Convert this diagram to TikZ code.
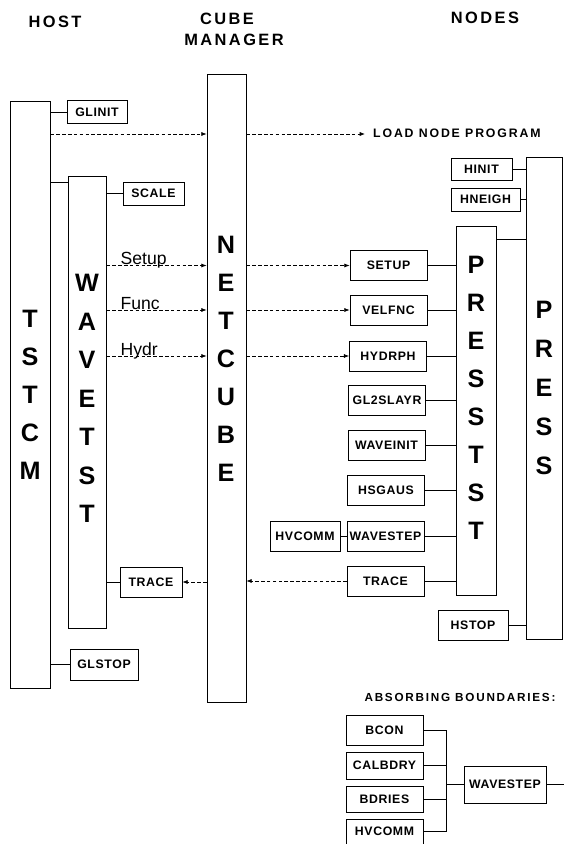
\documentclass[tikz,border=0pt]{standalone}
\usepackage{fontspec}
\setmainfont{Liberation Sans}
\newfontfamily\spaced[LetterSpace=5]{Liberation Sans}
\newfontfamily\wide[LetterSpace=15]{Liberation Sans}
\usetikzlibrary{arrows.meta}
\begin{document}
\begin{tikzpicture}[x=0.03cm, y=-0.03cm,
  col/.style={rectangle, draw, line width=0.7pt, inner sep=0pt},
  rtn/.style={rectangle, draw, line width=0.7pt, inner sep=0pt, minimum width=2.31cm, minimum height=0.9cm, font={\spaced\bfseries\fontsize{10.5}{12}\selectfont}},
  big/.style={inner sep=0pt, font={\bfseries\fontsize{21.5}{25}\selectfont}},
  head/.style={inner sep=0pt, font={\wide\bfseries\fontsize{14}{16}\selectfont}},
  note/.style={inner sep=0pt, font={\wide\bfseries\fontsize{10}{12}\selectfont}},
  lbl/.style={inner sep=0pt, font={\fontsize{15}{17}\selectfont}},
  link/.style={line width=0.7pt},
  msg/.style={line width=0.6pt, densely dashed, -{Latex[length=4.5pt,width=3.5pt]}},
  ]
 \useasboundingbox (0,0) rectangle (564,844);

 \node[head] (host) at (55,22) {HOST};
 \node[head] (cube) at (227,19) {CUBE};
 \node[head] (mgr) at (234,40) {MANAGER};
 \node[head] (nodes) at (485,18) {NODES};

 \node[col, minimum width=1.2cm, minimum height=17.61cm] (tstcm) at (30,394.5) {};
 \node[col, minimum width=1.14cm, minimum height=13.56cm] (wavest) at (87,402) {};
 \node[col, minimum width=1.17cm, minimum height=18.84cm] (netcube) at (226.5,388) {};
 \node[col, minimum width=1.2cm, minimum height=11.07cm] (presst) at (476,410.5) {};
 \node[col, minimum width=1.08cm, minimum height=14.46cm] (press) at (544,398) {};

 \foreach \l [count=\i] in {T,S,T,C,M}
   \node[big] (tstcm-\i) at (30,{319+38*(\i-1)}) {\l};
 \foreach \l [count=\i] in {W,A,V,E,T,S,T}
   \node[big] (wavest-\i) at (87,{283+38.5*(\i-1)}) {\l};
 \foreach \l [count=\i] in {N,E,T,C,U,B,E}
   \node[big] (netcube-\i) at (226,{245+38*(\i-1)}) {\l};
 \foreach \l [count=\i] in {P,R,E,S,S,T,S,T}
   \node[big] (presst-\i) at (476,{265+38*(\i-1)}) {\l};
 \foreach \l [count=\i] in {P,R,E,S,S}
   \node[big] (press-\i) at (544,{310+39*(\i-1)}) {\l};

 % host side
 \node[rtn, minimum width=1.8cm, minimum height=0.69cm] (glinit) at (97,112) {GLINIT};
 \node[rtn, minimum width=1.83cm, minimum height=0.69cm] (scale) at (153.5,193.5) {SCALE};
 \node[rtn, minimum width=1.86cm] (traceL) at (151,582) {TRACE};
 \node[rtn, minimum width=2.04cm, minimum height=0.93cm] (glstop) at (104,664.5) {GLSTOP};

 % node side
 \node[rtn, minimum width=1.83cm, minimum height=0.66cm] (hinit) at (481.5,169) {HINIT};
 \node[rtn, minimum width=2.07cm, minimum height=0.69cm] (hneigh) at (485.5,199.5) {HNEIGH};
 \node[rtn] (setup) at (388.5,265.5) {SETUP};
 \node[rtn] (velfnc) at (388.5,310) {VELFNC};
 \node[rtn] (hydrph) at (388,356) {HYDRPH};
 \node[rtn] (gl2slayr) at (387,400) {GL2SLAYR};
 \node[rtn] (waveinit) at (386.5,445) {WAVEINIT};
 \node[rtn] (hsgaus) at (386,490.5) {HSGAUS};
 \node[rtn] (wavestep) at (385.5,536) {WAVESTEP};
 \node[rtn, minimum width=2.1cm] (hvcomm) at (305,536) {HVCOMM};
 \node[rtn] (traceR) at (385.5,581) {TRACE};
 \node[rtn, minimum width=2.1cm] (hstop) at (473,625) {HSTOP};

 \coordinate (load) at (365,134);
 \node[note, anchor=west, font={\wide\bfseries\fontsize{10.5}{12}\selectfont}] (loadtxt) at (373,133) {LOAD NODE PROGRAM};

 % absorbing boundaries
 \node[note] (absorb) at (460,697) {ABSORBING BOUNDARIES:};
 \node[rtn] (bcon) at (384.5,730) {BCON};
 \node[rtn, minimum height=0.81cm] (calbdry) at (384.5,765.5) {CALBDRY};
 \node[rtn, minimum height=0.78cm] (bdries) at (384.5,799) {BDRIES};
 \node[rtn, minimum height=0.75cm] (hvcommB) at (384.5,831.5) {HVCOMM};
 \node[rtn, minimum width=2.46cm, minimum height=1.11cm] (wavestepB) at (505,784.5) {WAVESTEP};
 \coordinate (bus) at (446,784.5);
 \coordinate (exit) at (564,784.5);

 \draw[link] (tstcm.east |- glinit.west) -- (glinit.west);
 \draw[msg] (tstcm.east |- load) -- (netcube.west |- load);
 \draw[msg] (netcube.east |- load) -- (load);
 \coordinate (wtop) at ([yshift=-0.21cm]wavest.north west);
 \draw[link] (wtop) -- (tstcm.east |- wtop);
 \draw[link] (wavest.east |- scale.west) -- (scale.west);
 \foreach \txt/\dst in {Setup/setup, Func/velfnc, Hydr/hydrph} {
   \draw[msg] (wavest.east |- \dst) -- (netcube.west |- \dst);
   \draw[msg] (netcube.east |- \dst) -- (\dst.west);
   \node[lbl, anchor=base west] (lbl-\dst) at ([xshift=0.42cm, yshift=0.5pt]wavest.east |- \dst) {\txt};
 }
 \draw[link] (wavest.east |- traceL) -- (traceL.west);
 \draw[msg] (netcube.west |- traceL) -- (traceL.east);
 \draw[link] (tstcm.east |- glstop) -- (glstop.west);

 \foreach \r in {setup,velfnc,hydrph,gl2slayr,waveinit,hsgaus,wavestep,traceR}
   \draw[link] (\r.east) -- (presst.west |- \r.east);
 \draw[link] (hvcomm.east) -- (wavestep.west);
 \draw[msg] (traceR.west) -- (netcube.east |- traceR.west);
 \draw[link] (hinit.east) -- (press.west |- hinit.east);
 \draw[link] (hneigh.east) -- (press.west |- hneigh.east);
 \coordinate (ptop) at ([yshift=-0.42cm]presst.north east);
 \draw[link] (ptop) -- (press.west |- ptop);
 \draw[link] (hstop.east) -- (press.west |- hstop.east);

 \foreach \r in {bcon,calbdry,bdries,hvcommB}
   \draw[link] (\r.east) -- (\r.east -| bus);
 \draw[link] (bcon.east -| bus) -- (hvcommB.east -| bus);
 \draw[link] (bus) -- (wavestepB.west);
 \draw[link] (wavestepB.east) -- (exit);
\end{tikzpicture}
\end{document}
